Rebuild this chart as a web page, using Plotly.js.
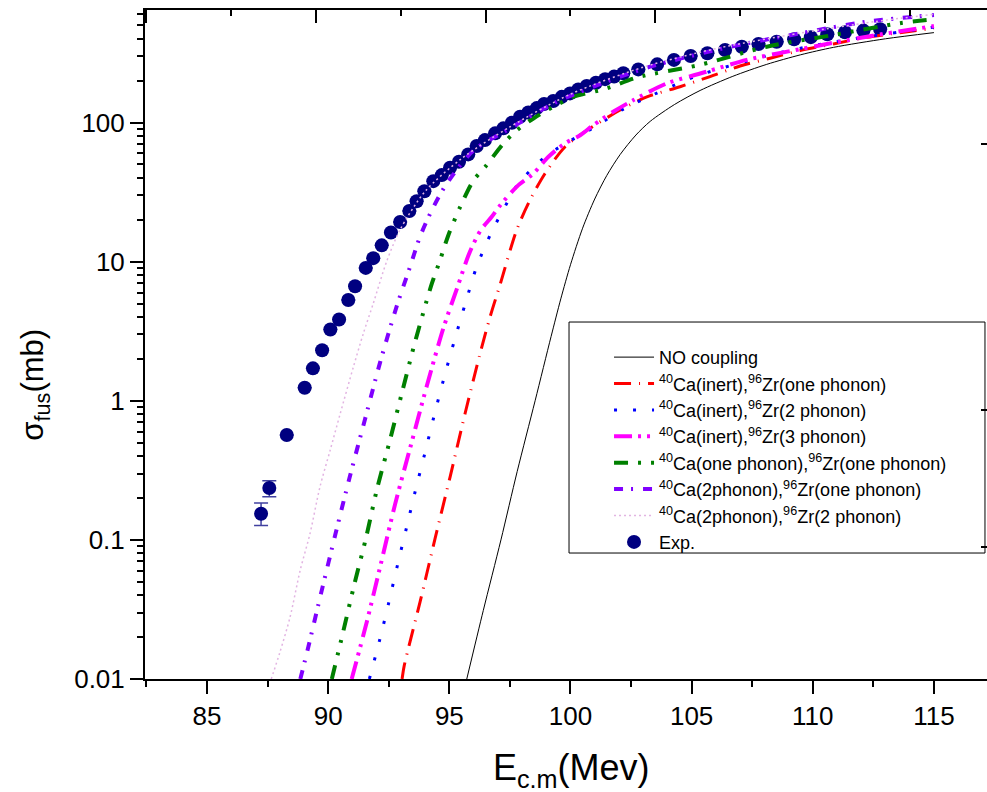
<!DOCTYPE html>
<html>
<head>
<meta charset="utf-8">
<script src="https://cdn.plot.ly/plotly-3.0.1.min.js"></script>
<style>html,body{margin:0;padding:0;background:#fff;}#chart{width:987px;height:792px;}</style>
</head>
<body>
<div id="chart"></div>
<script>
// ---- Experimental data ----
const expE = [87.23, 87.57, 88.29, 89.03, 89.37, 89.75, 90.09, 90.45, 90.83, 91.11, 91.55, 91.86, 92.21, 92.59, 92.97, 93.35, 93.65, 93.97, 94.34, 94.69, 95.03, 95.40, 95.78, 96.13, 96.47, 96.89, 97.23, 97.58, 97.92, 98.26, 98.61, 98.91, 99.29, 99.64, 99.98, 100.32, 100.67, 101.05, 101.43, 101.80, 102.18, 102.80, 103.58, 104.27, 104.96, 105.65, 106.38, 107.07, 107.76, 108.51, 109.23, 109.92, 110.60, 111.33, 112.09, 112.78];
const expSigma = [0.154, 0.236, 0.567, 1.24, 1.71, 2.31, 3.25, 3.84, 5.3, 6.66, 9.02, 10.6, 13.1, 16.2, 19.3, 23.1, 27.2, 32.1, 37.9, 41.9, 47.3, 52.2, 59, 67.8, 74.8, 83.6, 90.8, 99.7, 110, 118, 127, 136, 143, 153, 162, 173, 183, 193, 205, 214, 226, 241, 262, 282, 301, 315, 332, 351, 367, 381, 397, 411, 431, 446, 458, 468];
const expErrPlus  = [0.030, 0.030, 0,0,0,0,0,0,0,0, 0,0,0,0,0,0,0,0,0,0, 0,0,0,0,0,0,0,0,0,0, 0,0,0,0,0,0,0,0,0,0, 0,0,0,0,0,0,0,0,0,0, 0,0,0,0,0,0];
const expErrMinus = [0.027, 0.032, 0,0,0,0,0,0,0,0, 0,0,0,0,0,0,0,0,0,0, 0,0,0,0,0,0,0,0,0,0, 0,0,0,0,0,0,0,0,0,0, 0,0,0,0,0,0,0,0,0,0, 0,0,0,0,0,0];

// ---- Calculated curves ----
const noCoupE = [95.72, 96.4, 97.13, 97.8, 98.54, 99.2, 99.6, 100.0, 100.5, 101.0, 101.5, 102.05, 102.7, 103.29, 104.3, 105.35, 106.7, 108.1, 109.5, 110.85, 113, 115];
const noCoupS = [0.01, 0.031, 0.1, 0.31, 1.0, 2.9, 5.4, 9.5, 17.4, 28.2, 41.7, 58.9, 81.3, 102, 135, 170, 215, 262, 307, 347, 400, 443];

const inert1E = [93.05, 93.14, 93.79, 94.41, 95.03, 95.65, 96.27, 96.68, 97.09, 97.78, 98.33, 98.95, 99.78, 100.81, 102.05, 103.15, 104.52, 105.76, 107.0, 108.24, 109.48, 110.85, 112.23, 115];
const inert1S = [0.01, 0.0125, 0.0357, 0.102, 0.283, 0.81, 2.19, 4.0, 6.8, 16.9, 27.7, 43, 67, 91, 123, 153, 181, 214, 255, 290, 329, 367, 410, 476];

const inert2E = [91.70, 92.14, 92.51, 92.87, 93.24, 93.61, 93.99, 94.38, 94.78, 95.21, 95.66, 96.13, 96.75, 97.48, 97.85, 98.95, 99.57, 100.95, 102.25, 102.94, 105.14, 108.24, 110.17, 112.5, 115];
const inert2S = [0.01, 0.0195, 0.036, 0.067, 0.124, 0.23, 0.42, 0.79, 1.46, 2.71, 5.0, 9.2, 16.4, 28.4, 36.5, 56.8, 67, 92, 127, 145, 214, 306, 361, 420, 485];

const inert3E = [90.97, 91.59, 92.18, 92.76, 93.40, 94.06, 94.75, 95.30, 95.85, 96.30, 96.75, 97.16, 97.85, 98.47, 99.09, 99.78, 100.4, 100.95, 101.78, 102.6, 103.97, 105.62, 107.27, 109.48, 112.23, 115];
const inert3S = [0.01, 0.0256, 0.068, 0.18, 0.47, 1.26, 3.31, 6.3, 11.8, 16.9, 21, 26.2, 35.5, 43, 56.8, 71, 81, 96, 120, 145, 191, 232, 282, 337, 414, 494];

const one1E = [90.15, 90.63, 91.08, 91.57, 92.01, 92.53, 93.02, 93.52, 94.04, 94.28, 94.62, 94.96, 95.45, 96.0, 96.48, 97.24, 97.79, 98.47, 99.30, 100.12, 101.5, 102.74, 105.35, 108.1, 110.85, 113.6, 115];
const one1S = [0.01, 0.0223, 0.048, 0.105, 0.23, 0.506, 1.1, 2.4, 5.06, 6.97, 10.3, 15.5, 24.8, 38.5, 48, 71, 88, 107, 130, 153, 176, 211, 260, 351, 426, 518, 552];

const two1E = [88.85, 89.18, 89.73, 90.31, 90.90, 91.52, 92.14, 92.83, 93.38, 93.79, 94.28, 94.90, 96.0, 97.37, 99.44, 101.5, 103.29, 106.31, 109.48, 112.23, 115];
const two1S = [0.01, 0.017, 0.043, 0.112, 0.288, 0.736, 1.88, 4.79, 9.2, 15.1, 23.5, 36.5, 63, 88, 141, 197, 252, 342, 438, 531, 593];

const two2E = [87.65, 88.01, 88.43, 88.84, 89.25, 89.66, 90.08, 90.49, 91.04, 91.45, 91.86, 92.41, 92.97, 94.0, 95.5, 97.5, 100, 103, 106, 109.5, 112.5, 115];
const two2S = [0.01, 0.0156, 0.028, 0.06, 0.111, 0.24, 0.44, 0.8, 1.75, 3.04, 5.0, 10, 17, 32, 55, 93, 160, 250, 340, 440, 530, 600];

// tick labels
const yTickVals = [0.01, 0.1, 1, 10, 100];
const yTickText = ['0.01', '0.1', '1', '10', '100'];
const rightTickVals = [70, 0.855, 0.0883];

const FONT = 'Liberation Sans, Arial, sans-serif';

const traces = [
  {x: expE, y: expSigma, type: 'scatter', mode: 'markers', name: 'Exp.', legendrank: 8,
   marker: {color: '#000080', size: 14, symbol: 'circle'},
   error_y: {type: 'data', symmetric: false, array: expErrPlus, arrayminus: expErrMinus,
             color: 'rgba(0,0,128,0.75)', thickness: 1.5, width: 7}},
  {x: noCoupE, y: noCoupS, type: 'scatter', mode: 'lines', name: 'NO coupling', legendrank: 1,
   line: {color: '#000000', width: 1, shape: 'spline', smoothing: 0.8}},
  {x: inert1E, y: inert1S, type: 'scatter', mode: 'lines', legendrank: 2,
   name: '<sup>40</sup>Ca(inert),<sup>96</sup>Zr(one phonon)',
   line: {color: '#FF0000', width: 3, dash: '17px,8px,1px,8px', shape: 'spline', smoothing: 0.8}},
  {x: inert2E, y: inert2S, type: 'scatter', mode: 'lines', legendrank: 3,
   name: '<sup>40</sup>Ca(inert),<sup>96</sup>Zr(2 phonon)',
   line: {color: '#0000FF', width: 3, dash: '3px,16px', shape: 'spline', smoothing: 0.8}},
  {x: inert3E, y: inert3S, type: 'scatter', mode: 'lines', legendrank: 4,
   name: '<sup>40</sup>Ca(inert),<sup>96</sup>Zr(3 phonon)',
   line: {color: '#FF00FF', width: 4, dash: '18px,6px,3px,6px,3px,7px', shape: 'spline', smoothing: 0.8}},
  {x: one1E, y: one1S, type: 'scatter', mode: 'lines', legendrank: 5,
   name: '<sup>40</sup>Ca(one phonon),<sup>96</sup>Zr(one phonon)',
   line: {color: '#008000', width: 4, dash: '14px,10px,3px,10px,3px,10px', shape: 'spline', smoothing: 0.8}},
  {x: two1E, y: two1S, type: 'scatter', mode: 'lines', legendrank: 6,
   name: '<sup>40</sup>Ca(2phonon),<sup>96</sup>Zr(one phonon)',
   line: {color: '#8000FF', width: 4, dash: '9px,8px,2px,10px', shape: 'spline', smoothing: 0.8}},
  {x: two2E, y: two2S, type: 'scatter', mode: 'lines', legendrank: 7,
   name: '<sup>40</sup>Ca(2phonon),<sup>96</sup>Zr(2 phonon)',
   line: {color: '#E2B4E2', width: 1.5, dash: '2px,3px', shape: 'spline', smoothing: 0.8}}
];

const xRange = [82.44, 117.19];
const yRange = [-2, 2.809];

const layout = {
  width: 987, height: 792,
  margin: {l: 145, r: 0, t: 10, b: 113},
  paper_bgcolor: '#ffffff', plot_bgcolor: '#ffffff',
  font: {family: FONT, color: '#000'},
  showlegend: true,
  legend: {x: 0.5036, y: 0.5336, xanchor: 'left', yanchor: 'top',
           bgcolor: 'rgba(0,0,0,0)', borderwidth: 0,
           indentation: 40, itemwidth: 40,
           font: {family: FONT, size: 18, color: '#000'},
           title: {text: ' ', font: {size: 13}}},
  shapes: [
    {type: 'rect', xref: 'paper', yref: 'paper', x0: 0.5036, x1: 0.9976, y0: 0.1883, y1: 0.5336,
     line: {color: '#000', width: 1}, fillcolor: 'rgba(0,0,0,0)', layer: 'above'}
  ],
  xaxis: {range: xRange, showgrid: false, zeroline: false, showline: true, linecolor: '#000', linewidth: 2,
          ticks: 'outside', ticklen: 13, tickwidth: 2, tickcolor: '#000', dtick: 5, tick0: 0,
          minor: {dtick: 2.5, tick0: 0, ticks: 'outside', ticklen: 6, tickwidth: 2, tickcolor: '#000'},
          tickfont: {family: FONT, size: 26, color: '#000'}},
  xaxis2: {range: xRange, overlaying: 'x', side: 'top', anchor: 'y', showgrid: false, zeroline: false,
           showline: true, linecolor: '#000', linewidth: 2, showticklabels: false,
           ticks: 'inside', ticklen: 13, tickwidth: 2, tickcolor: '#000', tick0: 89.5, dtick: 7,
           minor: {tick0: 89.5, dtick: 3.5, ticks: 'inside', ticklen: 6, tickwidth: 2, tickcolor: '#000'}},
  yaxis: {type: 'log', range: yRange, showgrid: false, zeroline: false, showline: true, linecolor: '#000', linewidth: 2,
          ticks: 'outside', ticklen: 13, tickwidth: 2, tickcolor: '#000',
          tickvals: yTickVals, ticktext: yTickText,
          minor: {dtick: 'D1', ticks: 'outside', ticklen: 6, tickwidth: 2, tickcolor: '#000'},
          tickfont: {family: FONT, size: 26, color: '#000'}},
  yaxis2: {type: 'log', range: yRange, overlaying: 'y', side: 'right', anchor: 'x', showgrid: false, zeroline: false,
           showline: false, showticklabels: false, ticks: 'inside', ticklen: 6, tickwidth: 2, tickcolor: '#000',
           tickvals: rightTickVals},
  annotations: [
    {text: 'σ<sub>fus</sub>(mb)', xref: 'paper', yref: 'paper', x: -0.1306, y: 0.44, textangle: -90,
     showarrow: false, xanchor: 'center', yanchor: 'middle', font: {family: FONT, size: 31, color: '#000'}},
    {text: 'E<sub>c.m</sub>(Mev)', xref: 'paper', yref: 'paper', x: 0.506, y: -0.136,
     showarrow: false, xanchor: 'center', yanchor: 'middle', font: {family: FONT, size: 36, color: '#000'}}
  ]
};

// dummy empty trace bound to the decorative top/right axes
traces.push({x: [], y: [], xaxis: 'x2', yaxis: 'y2', type: 'scatter', mode: 'lines', showlegend: false, hoverinfo: 'skip'});

Plotly.newPlot('chart', traces, layout, {displayModeBar: false, staticPlot: true});
</script>
</body>
</html>
